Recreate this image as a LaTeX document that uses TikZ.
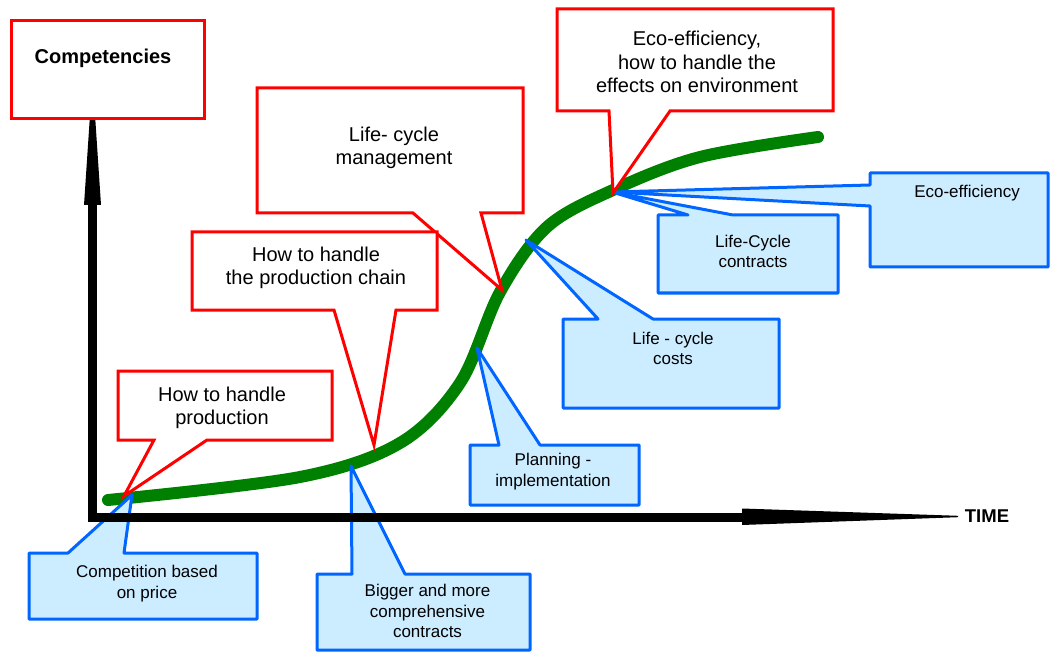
\documentclass[tikz,border=0pt]{standalone}
\usepackage{fontspec}
\setmainfont{Liberation Sans}
\definecolor{callred}{RGB}{255,0,0}
\definecolor{callblue}{RGB}{0,102,255}
\definecolor{callfill}{RGB}{204,236,255}
\definecolor{curvegreen}{RGB}{0,128,0}

\begin{document}
\begin{tikzpicture}[x=1pt,y=-1pt,
  redcall/.style={draw=callred, fill=white, line width=3pt, line join=miter},
  bluecall/.style={draw=callblue, fill=callfill, line width=3pt, line join=round},
  bigtext/.style={align=center, inner sep=0pt, font=\fontsize{20}{23.5}\selectfont},
  smalltext/.style={align=center, inner sep=0pt, font=\fontsize{17}{20.5}\selectfont},
  axislabel/.style={inner sep=0pt, font=\bfseries\fontsize{20}{24}\selectfont},
]
\useasboundingbox (0,0) rectangle (1050,655);

% the S-shaped growth curve
\draw[curvegreen, line width=12pt, line cap=round]
  plot[smooth, tension=0.55] coordinates {
    (108,500) (300,477) (400,443) (460,383) (500,292) (547,227)
    (613,190) (700,157) (818,137)};

% points on the curve the callouts point at
\coordinate (tPrice) at (132,495);
\coordinate (tBig) at (351,466);
\coordinate (tPlan) at (477,348);
\coordinate (tCost) at (526,240);
\coordinate (tEco) at (612,192);
\coordinate (tProd) at (124,496);
\coordinate (tChain) at (374,445);
\coordinate (tLife) at (502,290);
\coordinate (tEcoR) at (613,193);

% blue callouts below the curve
\draw[bluecall] (29,553) -- (68,553) -- (tPrice) -- (124,553) -- (257,553)
  -- (257,619) -- (29,619) -- cycle;
\node[smalltext] (price) at (147,583.5) {Competition based\\on price};

\draw[bluecall] (317,574) -- (352,574) -- (tBig) -- (405,574) -- (530,574)
  -- (530,650) -- (317,650) -- cycle;
\node[smalltext] (big) at (427.5,611) {Bigger and more\\comprehensive\\contracts};

\draw[bluecall] (470,445) -- (499,445) -- (tPlan) -- (540,445) -- (639,445)
  -- (639,505) -- (470,505) -- cycle;
\node[smalltext] (plan) at (553,471.5) {Planning -\\implementation};

\draw[bluecall] (563,319) -- (598,319) -- (tCost) -- (653,319) -- (779,319)
  -- (779,408) -- (563,408) -- cycle;
\node[smalltext] (cost) at (673,348.5) {Life - cycle\\costs};

\draw[bluecall] (658,215) -- (688,215) -- (tEco) -- (733,215) -- (838,215)
  -- (838,293) -- (658,293) -- cycle;
\node[smalltext] (lcc) at (753,251.5) {Life-Cycle\\contracts};

\draw[bluecall] (870,173) -- (1048,173) -- (1048,267) -- (870,267) -- (870,206)
  -- (tEco) -- (870,185) -- cycle;
\node[smalltext] (ecob) at (967,193) {Eco-efficiency};

% axes
\coordinate (yend) at (92.5,204);
\coordinate (origin) at (92.5,517.5);
\coordinate (xend) at (743,517.5);
\draw[line width=9pt, line join=miter] (yend) -- (origin) -- (xend);
\fill (84,205) -- (101,205) -- (95,115) -- (90,115) -- cycle;
\fill (742,508.5) -- (958,515.8) -- (958,517.2) -- (742,525) -- cycle;
\node[axislabel, font=\bfseries\fontsize{18.5}{22}\selectfont] (time) at (987,516) {TIME};

% red callouts above the curve
\draw[redcall] (11,21) rectangle (204,119);
\node[axislabel] (comp) at (103,58) {Competencies};

\draw[redcall] (118,371) -- (332,371) -- (332,440) -- (207,440) -- (tProd)
  -- (154,440) -- (118,440) -- cycle;
\node[bigtext] (prod) at (222,408) {How to handle\\production};

\draw[redcall] (257,88) -- (523,88) -- (523,213) -- (481,213) -- (tLife)
  -- (413,213) -- (257,213) -- cycle;
\node[bigtext] (life) at (394,148) {Life- cycle\\management};

\draw[redcall] (192,232) -- (437,232) -- (437,310) -- (396,310) -- (tChain)
  -- (334,310) -- (192,310) -- cycle;
\node[bigtext] (chain) at (316,268) {How to handle\\the production chain};

\draw[redcall] (557,9) -- (833,9) -- (833,111) -- (670,111) -- (tEcoR)
  -- (609,111) -- (557,111) -- cycle;
\node[bigtext] (ecor) at (697,62) {Eco-efficiency,\\how to handle the\\effects on environment};
\end{tikzpicture}
\end{document}
